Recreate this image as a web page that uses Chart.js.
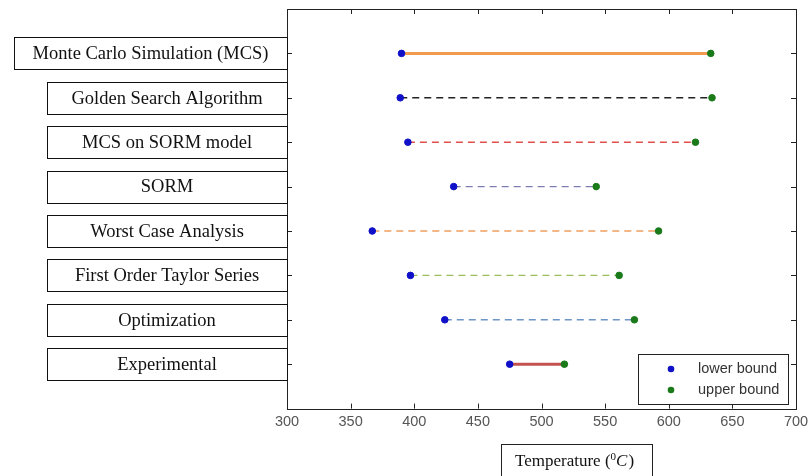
<!DOCTYPE html>
<html>
<head>
<meta charset="utf-8">
<script src="https://cdn.jsdelivr.net/npm/chart.js@4"></script>
<style>
  html, body { margin: 0; padding: 0; background: #fff; }
  #wrap { width: 809px; height: 476px; }
</style>
</head>
<body>
<div id="wrap"><canvas id="rangeChart" width="809" height="476"></canvas></div>
<script>
// methods, top to bottom
const methods = ['Monte Carlo Simulation (MCS)', 'Golden Search Algorithm', 'MCS on SORM model', 'SORM',
  'Worst Case Analysis', 'First Order Taylor Series', 'Optimization', 'Experimental'];
const lowerBound = [390, 389, 395, 431, 367, 397, 424, 475];
const upperBound = [633, 634, 621, 543, 592, 561, 573, 518];
const xTicks = [300, 350, 400, 450, 500, 550, 600, 650, 700];

// line look per method
const lineColors = ['#f29a4e', '#222222', '#e0504c', '#7c7eb4', '#f0a060', '#9cbe5c', '#6f94c8', '#c4524e'];
const lineDash = [[], [7, 5], [7, 5], [7, 5], [7, 5], [7, 5], [7, 5], []];
const lineWidth = [3, 1.5, 1.4, 1.4, 1.4, 1.4, 1.4, 3];

const datasets = [
  {
    label: 'lower bound',
    data: lowerBound.map((v, i) => ({ x: v, y: i + 1 })),
    backgroundColor: '#1010c8', borderColor: '#1010c8',
    pointRadius: 3.3, pointHoverRadius: 3.3, order: 0
  },
  {
    label: 'upper bound',
    data: upperBound.map((v, i) => ({ x: v, y: i + 1 })),
    backgroundColor: '#1a7a1a', borderColor: '#1a7a1a',
    pointRadius: 3.3, pointHoverRadius: 3.3, order: 0
  }
];
methods.forEach((m, i) => {
  datasets.push({
    label: m,
    data: [{ x: lowerBound[i], y: i + 1 }, { x: upperBound[i], y: i + 1 }],
    showLine: true,
    borderColor: lineColors[i],
    borderWidth: lineWidth[i],
    borderDash: lineDash[i],
    pointRadius: 0,
    order: 1
  });
});

// frame, inward ticks, label boxes, legend, axis title
const decor = {
  id: 'decor',
  afterDraw(chart) {
    const ctx = chart.ctx;
    const a = chart.chartArea;
    const xs = chart.scales.x, ys = chart.scales.y;
    ctx.save();
    ctx.strokeStyle = '#222';
    ctx.lineWidth = 1;
    ctx.strokeRect(Math.round(a.left) + 0.5, Math.round(a.top) + 0.5, Math.round(a.right - a.left), Math.round(a.bottom - a.top));

    ctx.beginPath();
    xTicks.forEach(t => {
      const px = Math.round(xs.getPixelForValue(t)) + 0.5;
      ctx.moveTo(px, a.top); ctx.lineTo(px, a.top + 5);
      ctx.moveTo(px, a.bottom); ctx.lineTo(px, a.bottom - 5);
    });
    methods.forEach((m, i) => {
      const py = Math.round(ys.getPixelForValue(i + 1)) + 0.5;
      ctx.moveTo(a.left, py); ctx.lineTo(a.left + 5, py);
      ctx.moveTo(a.right, py); ctx.lineTo(a.right - 5, py);
    });
    ctx.stroke();

    // category boxes
    ctx.font = '18.5px "Liberation Serif", "Times New Roman", serif';
    ctx.textAlign = 'center';
    ctx.textBaseline = 'middle';
    methods.forEach((m, i) => {
      const py = ys.getPixelForValue(i + 1);
      const x0 = i === 0 ? 14 : 47;
      const x1 = Math.round(a.left);
      ctx.fillStyle = '#fff';
      ctx.fillRect(x0, py - 16, x1 - x0, 32);
      ctx.strokeStyle = '#111';
      ctx.strokeRect(x0 + 0.5, Math.round(py - 16) + 0.5, x1 - x0, 32);
      ctx.fillStyle = '#111';
      ctx.fillText(m, (x0 + x1) / 2, py + 1);
    });

    // legend
    const lx = 638, ly = 354, lw = 150, lh = 50;
    ctx.fillStyle = '#fff';
    ctx.fillRect(lx, ly, lw, lh);
    ctx.strokeStyle = '#222';
    ctx.strokeRect(lx + 0.5, ly + 0.5, lw, lh);
    ctx.font = '14.5px "Liberation Sans", Arial, sans-serif';
    ctx.textAlign = 'left';
    [0, 1].forEach(k => {
      const ds = chart.data.datasets[k];
      const yy = ly + 15 + k * 21;
      ctx.fillStyle = ds.backgroundColor;
      ctx.beginPath(); ctx.arc(lx + 33, yy, 3.3, 0, Math.PI * 2); ctx.fill();
      ctx.fillStyle = '#333';
      ctx.fillText(ds.label, lx + 60, yy);
    });

    // x axis title in a box
    const bx = 501, by = 444, bw = 151;
    ctx.fillStyle = '#fff';
    ctx.fillRect(bx, by, bw, 40);
    ctx.strokeStyle = '#222';
    ctx.strokeRect(bx + 0.5, by + 0.5, bw, 40);
    ctx.fillStyle = '#111';
    const ty = 462;
    ctx.font = '17px "Liberation Serif", "Times New Roman", serif';
    let cx = 515;
    ctx.fillText('Temperature (', cx, ty);
    cx += ctx.measureText('Temperature (').width;
    ctx.font = '11px "Liberation Serif", serif';
    ctx.fillText('0', cx, ty - 5);
    cx += ctx.measureText('0').width;
    ctx.font = 'italic 17px "Liberation Serif", serif';
    ctx.fillText('C', cx, ty);
    cx += ctx.measureText('C').width + 1;
    ctx.font = '17px "Liberation Serif", serif';
    ctx.fillText(')', cx, ty);
    ctx.restore();
  }
};

new Chart(document.getElementById('rangeChart'), {
  type: 'scatter',
  data: { datasets: datasets },
  options: {
    responsive: false,
    animation: false,
    layout: { padding: { left: 287, top: 9, right: 13, bottom: 40 } },
    plugins: {
      legend: { display: false },
      tooltip: { enabled: false }
    },
    scales: {
      x: {
        type: 'linear', min: 300, max: 700,
        afterBuildTicks: s => { s.ticks = xTicks.map(v => ({ value: v })); },
        afterFit: s => { s.paddingRight = 0; s.paddingLeft = 0; },
        grid: { display: false, drawTicks: false },
        border: { display: false },
        ticks: { padding: 5, color: '#555', font: { family: '"Liberation Sans", Arial, sans-serif', size: 14.5 } }
      },
      y: {
        type: 'linear', min: 0, max: 9, reverse: true,
        grid: { display: false, drawTicks: false },
        border: { display: false },
        ticks: { display: false }
      }
    }
  },
  plugins: [decor]
});
</script>
</body>
</html>
